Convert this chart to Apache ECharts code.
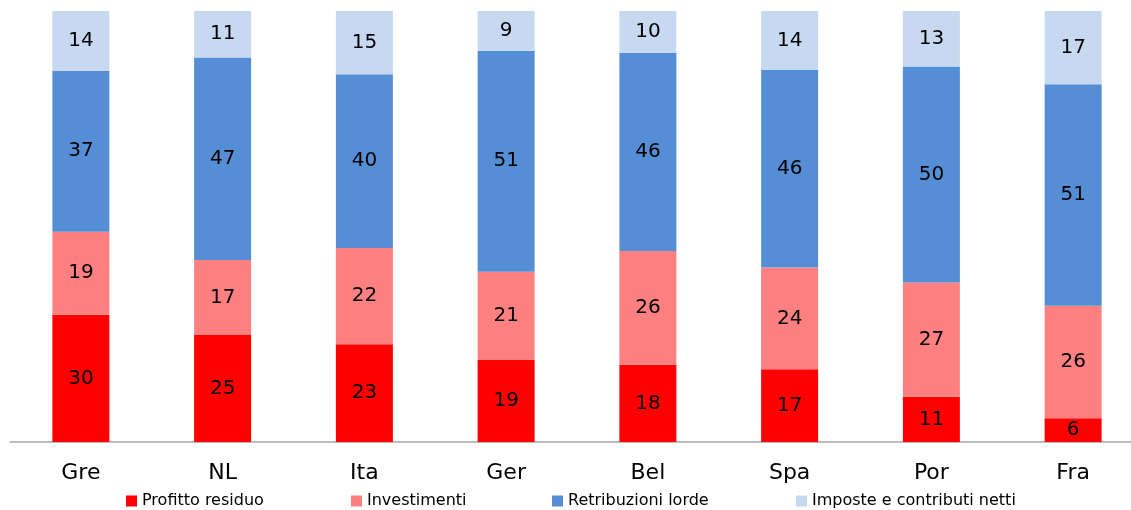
<!DOCTYPE html>
<html><head><meta charset="utf-8">
<script src="https://cdn.jsdelivr.net/npm/echarts@6/dist/echarts.min.js"></script>
<style>html,body{margin:0;padding:0;background:#fff}#c{width:1131px;height:510px}</style>
</head><body><div id="c"></div>
<script>
const categories = ['Gre','NL','Ita','Ger','Bel','Spa','Por','Fra'];
const profitto = [29.5,24.8,22.7,19.0,17.9,16.9,10.5,5.5];
const investimenti = [19.3,17.4,22.3,20.5,26.4,23.6,26.5,26.1];
const retribuzioni = [37.3,47.0,40.3,51.3,46.0,45.8,50.1,51.4];
const imposte = [13.9,10.8,14.7,9.2,9.7,13.7,12.9,17.0];
const seriesNames = ['Profitto residuo','Investimenti','Retribuzioni lorde','Imposte e contributi netti'];
const colors = ['#FF0000','#FF8080','#558ED5','#C6D9F1'];
const FONT = 'DejaVu Sans';

const datasets = [profitto, investimenti, retribuzioni, imposte];
const legendLefts = [126, 351, 552, 796];

const chart = echarts.init(document.getElementById('c'), null, {renderer:'canvas'});
chart.setOption({
  animation:false,
  color: colors,
  grid:{left:10,width:1134,top:11,height:431,containLabel:false,outerBoundsMode:'none'},
  legend: seriesNames.map((n,i)=>({
    data:[n], left:legendLefts[i], top:493, padding:0, itemWidth:11, itemHeight:11, icon:'rect', itemGap:0,
    textStyle:{fontFamily:FONT,fontSize:16,color:'#000'}
  })),
  xAxis:{type:'category',data:categories,
    axisLine:{lineStyle:{color:'#A6A6A6',width:1.5}},
    axisTick:{show:false},
    axisLabel:{fontFamily:FONT,fontSize:22,color:'#000',margin:20}},
  yAxis:{type:'value',min:0,max:100,show:false,splitLine:{show:false}},
  series: datasets.map((d,i)=>({
    name:seriesNames[i],type:'bar',stack:'s',data:d,barWidth:57,
    itemStyle:{color:colors[i]},
    label:{show:true,position:'inside',fontFamily:FONT,fontSize:20,color:'#000',
      formatter:p=>Math.round(p.value)}
  }))
});
</script></body></html>
